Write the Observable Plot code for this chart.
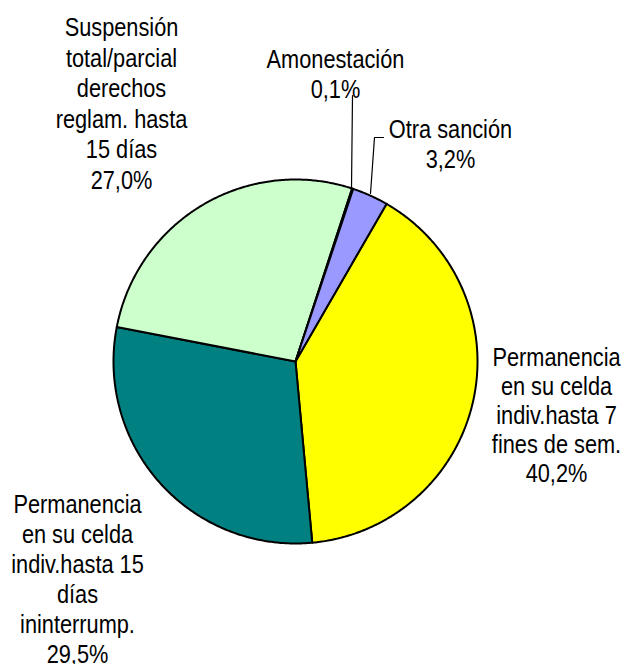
<!DOCTYPE html>
<html>
<head>
<meta charset="utf-8">
<script src="https://cdn.jsdelivr.net/npm/d3@7"></script>
<script src="https://cdn.jsdelivr.net/npm/@observablehq/plot@0.6"></script>
<style>
  html, body { margin: 0; padding: 0; background: #fff; }
  #chart svg { display: block; }
</style>
</head>
<body>
<div id="chart"></div>
<script>
// ---- data ----
const categories = [
  "Permanencia en su celda indiv.hasta 7 fines de sem.",
  "Permanencia en su celda indiv.hasta 15 días ininterrump.",
  "Suspensión total/parcial derechos reglam. hasta 15 días",
  "Amonestación",
  "Otra sanción"
];
const values = [40.2, 29.5, 27.0, 0.1, 3.2];
const labelTexts = [
  "Permanencia\nen su celda\nindiv.hasta 7\nfines de sem.\n40,2%",
  "Permanencia\nen su celda\nindiv.hasta 15\ndías\nininterrump.\n29,5%",
  "Suspensión\ntotal/parcial\nderechos\nreglam. hasta\n15 días\n27,0%",
  "Amonestación\n0,1%",
  "Otra sanción\n3,2%"
];
const colors = ["#FFFF00", "#008080", "#CCFFCC", "#9999FF", "#9999FF"];

// ---- layout (pixel units relative to pie centre) ----
const W = 624, H = 664;
const CX = 295, CY = 361, R = 182;
const startDeg = 30;
const FS = 25;
const labelPos = [
  [261, -53],
  [-218, -217],
  [-174, 259],
  [40, 288],
  [155, 218]
];
const labelLH = [29, 30, 30.5, 30, 30];
const leaders = [
  [[56, 174], [57, 266]],
  [[75, 168], [79, 224], [88, 224]]
];

const pie = d3.pie().sort(null).value(d => d)
  .startAngle(startDeg * Math.PI / 180)
  .endAngle(startDeg * Math.PI / 180 + 2 * Math.PI)(values);

const pts = [];
pie.forEach((a, i) => {
  const n = Math.max(2, Math.ceil((a.endAngle - a.startAngle) / (Math.PI / 360)));
  pts.push({k: i, x: 0, y: 0, c: colors[i]});
  for (let j = 0; j <= n; j++) {
    const t = a.startAngle + (a.endAngle - a.startAngle) * j / n;
    pts.push({k: i, x: R * Math.sin(t), y: R * Math.cos(t), c: colors[i]});
  }
  pts.push({k: i, x: 0, y: 0, c: colors[i]});
});

const labels = labelTexts.map((t, i) => ({t, x: labelPos[i][0], y: labelPos[i][1], lh: labelLH[i]}));
const leaderPts = leaders.flatMap((l, i) => l.map(p => ({k: i, x: p[0], y: p[1]})));

const plot = Plot.plot({
  width: W, height: H,
  margin: 0,
  x: {domain: [-CX, W - CX], axis: null},
  y: {domain: [-(H - CY), CY], axis: null},
  color: {type: "identity"},
  style: {fontFamily: "'Liberation Sans', Arial, sans-serif", background: "#fff"},
  marks: [
    Plot.line(pts, {x: "x", y: "y", z: "k", fill: "c", stroke: "#000", strokeWidth: 2, strokeLinejoin: "round", curve: "linear"}),
    Plot.line(leaderPts, {x: "x", y: "y", z: "k", stroke: "#000", strokeWidth: 1.2}),
    ...labels.map(l => Plot.text([l], {x: "x", y: "y", text: "t", fontSize: FS, lineHeight: l.lh / FS, fill: "#000", textAnchor: "middle", lineAnchor: "middle"}))
  ]
});
// condense glyphs horizontally (narrow face look), around each text's anchor
plot.querySelectorAll("text").forEach(el => {
  const tr = el.getAttribute("transform");
  if (tr && tr.includes("translate")) {
    el.setAttribute("transform", tr + " scale(0.87,1)");
  } else {
    const x = +(el.getAttribute("x") || 0);
    el.setAttribute("transform", `translate(${x},0) scale(0.87,1) translate(${-x},0)`);
  }
});
document.getElementById("chart").appendChild(plot);
</script>
</body>
</html>
